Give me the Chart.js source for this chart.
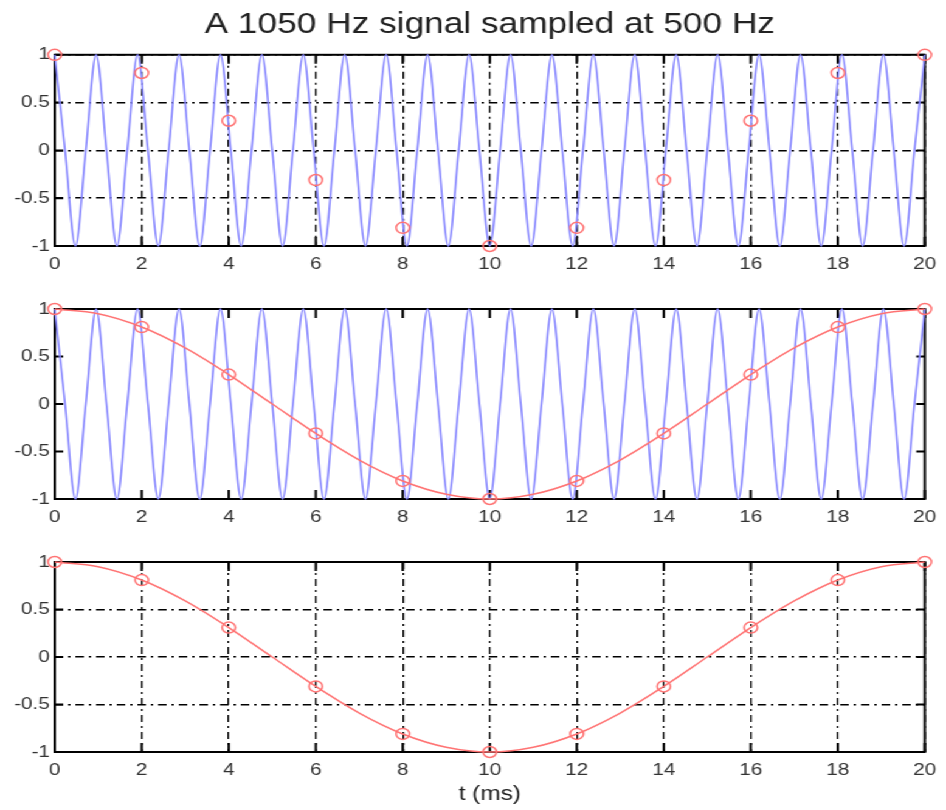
<!DOCTYPE html>
<html>
<head>
<meta charset="utf-8">
<script src="https://cdn.jsdelivr.net/npm/chart.js@4.4.1/dist/chart.umd.min.js"></script>
<style>
  html, body { margin: 0; padding: 0; background: #fff; overflow: hidden; }
  /* the reference picture is stretched sideways, so the whole figure is drawn narrow and widened */
  #fig { position: absolute; left: 0; top: 0; width: 778px; height: 810px; transform: scaleX(1.216); transform-origin: 0 0; }
  #fig canvas { position: absolute; left: 0; }
</style>
</head>
<body>
<div id="fig">
  <canvas id="c1" width="778" height="290" style="top:0px"></canvas>
  <canvas id="c2" width="778" height="253" style="top:290px"></canvas>
  <canvas id="c3" width="778" height="267" style="top:543px"></canvas>
</div>
<script>
// tick positions
const xTicks = [0, 2, 4, 6, 8, 10, 12, 14, 16, 18, 20];
const yTicks = [-1, -0.5, 0, 0.5, 1];

// 1050 Hz signal: peaks, zero crossings and troughs (t in ms)
const tBlue = [
  0, 0.238, 0.476, 0.714, 0.952, 1.19, 1.429, 1.667, 1.905, 2.143, 2.381, 2.619, 2.857, 3.095, 3.333, 3.571, 3.81, 4.048, 4.286, 4.524, 4.762,
  5, 5.238, 5.476, 5.714, 5.952, 6.19, 6.429, 6.667, 6.905, 7.143, 7.381, 7.619, 7.857, 8.095, 8.333, 8.571, 8.81, 9.048, 9.286, 9.524, 9.762,
  10, 10.238, 10.476, 10.714, 10.952, 11.19, 11.429, 11.667, 11.905, 12.143, 12.381, 12.619, 12.857, 13.095, 13.333, 13.571, 13.81, 14.048, 14.286, 14.524, 14.762,
  15, 15.238, 15.476, 15.714, 15.952, 16.19, 16.429, 16.667, 16.905, 17.143, 17.381, 17.619, 17.857, 18.095, 18.333, 18.571, 18.81, 19.048, 19.286, 19.524, 19.762,
  20
];
const yBlue = [
  1, 0, -1, 0,  1, 0, -1, 0,  1, 0, -1, 0,  1, 0, -1, 0,  1, 0, -1, 0,
  1, 0, -1, 0,  1, 0, -1, 0,  1, 0, -1, 0,  1, 0, -1, 0,  1, 0, -1, 0,
  1, 0, -1, 0,  1, 0, -1, 0,  1, 0, -1, 0,  1, 0, -1, 0,  1, 0, -1, 0,
  1, 0, -1, 0,  1, 0, -1, 0,  1, 0, -1, 0,  1, 0, -1, 0,  1, 0, -1, 0,
  1, 0, -1, 0,
  1
];

// samples taken at 500 Hz
const tSamples = [0, 2, 4, 6, 8, 10, 12, 14, 16, 18, 20];
const ySamples = [1, 0.81, 0.31, -0.31, -0.81, -1, -0.81, -0.31, 0.31, 0.81, 1];

// the 50 Hz alias the samples trace out
const tAlias = [0, 1, 2, 3, 4, 5, 6, 7, 8, 9, 10, 11, 12, 13, 14, 15, 16, 17, 18, 19, 20];
const yAlias = [1, 0.95, 0.81, 0.59, 0.31, 0, -0.31, -0.59, -0.81, -0.95, -1, -0.95, -0.81, -0.59, -0.31, 0, 0.31, 0.59, 0.81, 0.95, 1];

const FONT = "'Liberation Sans', Arial, Helvetica, sans-serif";
const BLUE = 'rgb(135,135,255)';
const RED = 'rgb(255,115,115)';

function pts(xs, ys) {
  return xs.map((x, i) => ({ x: x, y: ys[i] }));
}

// box round the axes with tick marks pointing inward
const boxPlugin = {
  id: 'box',
  beforeDatasetsDraw(chart) {
    const { ctx, chartArea: a, scales: { x, y } } = chart;
    ctx.save();
    ctx.strokeStyle = '#000';
    ctx.lineWidth = 2;
    ctx.strokeRect(a.left, a.top, a.right - a.left, a.bottom - a.top);
    ctx.beginPath();
    x.ticks.forEach(t => {
      const px = x.getPixelForValue(t.value);
      ctx.moveTo(px, a.bottom); ctx.lineTo(px, a.bottom - 9);
      ctx.moveTo(px, a.top); ctx.lineTo(px, a.top + 9);
    });
    y.ticks.forEach(t => {
      const py = y.getPixelForValue(t.value);
      ctx.moveTo(a.left, py); ctx.lineTo(a.left + 7, py);
      ctx.moveTo(a.right, py); ctx.lineTo(a.right - 7, py);
    });
    ctx.stroke();
    ctx.restore();
  }
};

function blueSet() {
  return {
    data: pts(tBlue, yBlue), borderColor: BLUE, borderWidth: 1.6,
    pointRadius: 0, cubicInterpolationMode: 'monotone', clip: false
  };
}
function aliasSet() {
  return {
    data: pts(tAlias, yAlias), borderColor: RED, borderWidth: 1.5,
    pointRadius: 0, cubicInterpolationMode: 'monotone', clip: false
  };
}
function sampleSet() {
  return {
    data: pts(tSamples, ySamples), showLine: false,
    pointStyle: 'circle', pointRadius: 5.5, pointBorderWidth: 1.5,
    pointBorderColor: RED, pointBackgroundColor: 'rgba(0,0,0,0)', clip: false
  };
}

function makeChart(id, datasets, opts) {
  return new Chart(document.getElementById(id), {
    type: 'line',
    data: { datasets: datasets },
    options: {
      responsive: false,
      animation: false,
      events: [],
      layout: { padding: { top: opts.padTop, left: 0, right: 10, bottom: 0 } },
      plugins: {
        legend: { display: false },
        tooltip: { enabled: false },
        title: {
          display: !!opts.title, text: opts.title || '', fullSize: false,
          color: '#222', font: { family: FONT, size: 29, weight: 'normal' },
          padding: { top: 8, bottom: 12 }
        }
      },
      scales: {
        x: {
          type: 'linear', min: 0, max: 20,
          afterBuildTicks: s => { s.ticks = xTicks.map(v => ({ value: v })); },
          afterFit: s => { s.height = opts.xHeight; },
          grid: { display: opts.grid, color: '#000', lineWidth: 1.3, drawTicks: false },
          border: { display: false, dash: [7, 4, 2, 4] },
          ticks: { color: '#333', font: { family: FONT, size: 17 }, padding: 8, maxRotation: 0, autoSkip: false },
          title: {
            display: !!opts.xTitle, text: opts.xTitle || '', color: '#222',
            font: { family: FONT, size: 20 }, padding: { top: 0, bottom: 4 }
          }
        },
        y: {
          type: 'linear', min: -1, max: 1,
          afterBuildTicks: s => { s.ticks = yTicks.map(v => ({ value: v })); },
          afterFit: s => { s.width = 45; },
          grid: { display: opts.grid, color: '#000', lineWidth: 1.5, drawTicks: false },
          border: { display: false, dash: [7, 4, 2, 4] },
          ticks: { color: '#333', font: { family: FONT, size: 17 }, padding: 4, callback: v => String(v) }
        }
      }
    },
    plugins: [boxPlugin]
  });
}

// top: the fast signal and its samples
makeChart('c1', [sampleSet(), blueSet()],
  { title: 'A 1050 Hz signal sampled at 500 Hz', padTop: 0, xHeight: 44, grid: true });

// middle: signal, samples and the slow curve through them
makeChart('c2', [sampleSet(), aliasSet(), blueSet()],
  { padTop: 19, xHeight: 44, grid: false });

// bottom: what the samples look like on their own
makeChart('c3', [sampleSet(), aliasSet()],
  { padTop: 19, xHeight: 58, grid: true, xTitle: 't (ms)' });
</script>
</body>
</html>
